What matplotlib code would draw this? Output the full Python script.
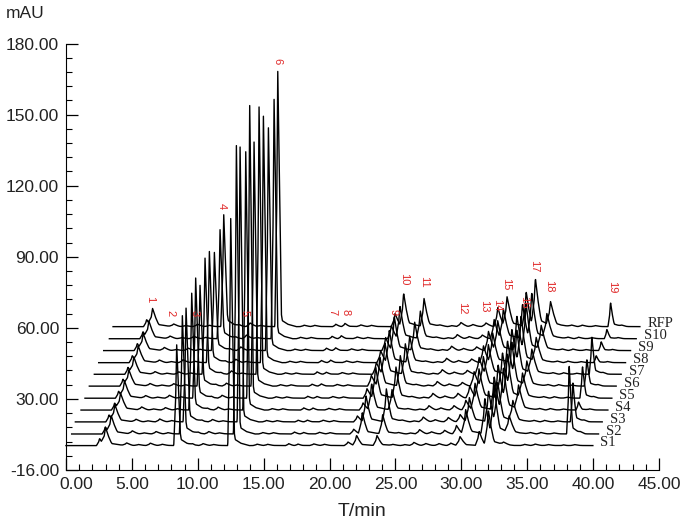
import numpy as np
import matplotlib
matplotlib.use("Agg")
import matplotlib.pyplot as plt
from matplotlib.transforms import ScaledTranslation

plt.rcParams['font.family'] = ['Liberation Sans', 'DejaVu Sans']

names = ["S1", "S2", "S3", "S4", "S5", "S6", "S7", "S8", "S9", "S10", "RFP"]

# where each trace sits in the stacked view (minutes / mAU)
shift_t = [0.0, 0.43, 0.71, 1.14, 1.44, 1.77, 2.15, 2.48, 2.86, 3.29, 3.57]
base_y = [10.3, 15.2, 20.3, 25.3, 30.3, 35.4, 40.4, 45.3, 50.4, 55.4, 60.5]

# retention time of the 19 numbered peaks, and how broad each one looks
peak_t = [3.0, 4.6, 6.4, 8.4, 10.4, 12.5, 16.9, 17.6, 21.4, 22.05, 23.6,
          26.4, 28.3, 29.2, 29.9, 31.35, 32.05, 33.2, 37.75]
peak_w = [2.0, 2.0, 2.0, 1.4, 2.0, 1.4, 1.5, 1.5, 1.8, 1.8, 1.8,
          2.0, 2.0, 1.8, 2.0, 1.8, 1.9, 2.0, 1.2]

# peak heights, one value per numbered peak
s1 = [7.4, 1.0, 1.0, 42.5, 0.8, 95.8, 0.8, 0.6, 1.5, 4.2, 4.2, 1.3, 0.8, 1.0, 3.7, 6.0, 14.5, 1.0, 0.3]
s2 = [7.5, 1.2, 1.0, 49.9, 1.0, 121.7, 0.8, 0.6, 2.0, 9.0, 8.0, 1.8, 1.5, 3.5, 10.0, 15.0, 20.0, 7.0, 29.6]
s3 = [7.0, 1.0, 1.2, 48.0, 1.0, 116.0, 0.7, 0.7, 2.5, 11.0, 13.8, 2.0, 1.8, 3.0, 10.0, 13.0, 16.0, 8.5, 17.0]
s4 = [6.8, 1.2, 1.0, 49.3, 1.2, 109.0, 0.9, 0.8, 3.0, 11.0, 8.5, 1.8, 1.8, 4.0, 11.0, 14.0, 17.0, 10.0, 3.5]
s5 = [7.0, 1.0, 1.2, 50.7, 1.2, 123.5, 0.8, 0.7, 4.0, 13.0, 13.0, 2.0, 2.0, 5.0, 12.0, 14.0, 18.0, 10.0, 13.7]
s6 = [6.6, 1.0, 1.0, 42.5, 1.2, 103.0, 0.8, 0.9, 4.5, 12.0, 12.7, 1.9, 1.5, 6.0, 12.0, 14.0, 18.0, 10.0, 11.5]
s7 = [7.0, 1.0, 1.0, 49.0, 1.4, 112.8, 1.0, 0.8, 5.0, 13.0, 12.7, 1.9, 1.6, 7.0, 12.0, 14.0, 18.0, 10.0, 16.2]
s8 = [6.8, 1.0, 1.2, 46.9, 1.4, 104.0, 0.9, 1.0, 5.0, 13.5, 11.0, 1.8, 1.5, 7.0, 12.0, 14.0, 19.0, 10.0, 3.0]
s9 = [7.0, 1.2, 1.0, 41.4, 1.5, 94.0, 1.0, 1.1, 5.5, 14.0, 11.8, 1.8, 1.5, 8.0, 12.0, 14.5, 19.0, 10.0, 3.8]
s10 = [7.2, 1.0, 1.0, 46.0, 1.5, 101.0, 1.0, 1.2, 5.5, 13.5, 11.5, 1.7, 1.5, 8.0, 12.0, 14.5, 18.5, 10.0, 4.0]
rfp = [7.4, 1.0, 1.0, 47.2, 1.5, 107.7, 1.0, 1.3, 5.5, 13.7, 11.7, 1.7, 1.5, 8.0, 12.0, 14.5, 19.3, 9.9, 10.3]
heights = [s1, s2, s3, s4, s5, s6, s7, s8, s9, s10, rfp]

# small unnumbered bumps that show up in every trace
minor_t = [2.55, 5.5, 7.3, 9.6, 11.2, 14.5, 15.3, 18.8, 19.6, 24.8, 25.7, 27.3, 34.8, 35.6, 36.6, 38.6]
minor_h = [3.0, 0.4, 0.5, 0.5, 0.4, 0.6, 0.5, 0.7, 0.5, 0.4, 0.4, 0.8, 0.5, 0.6, 0.4, 0.4]
minor_w = [1.5, 2, 2, 2, 2, 2, 2, 2, 2, 2, 2, 2, 2, 2, 2, 2]

# red peak numbers
label_t = [6.38, 7.9, 9.72, 11.85, 13.59, 16.02, 20.2, 21.2, 24.83, 25.66, 27.18,
           30.07, 31.75, 32.75, 33.41, 34.78, 35.54, 36.67, 41.46]
label_y = [72.2, 66.3, 66.3, 111.5, 66.3, 172.4, 66.8, 66.8, 66.8, 80.7, 79.4,
           68.4, 69.3, 69.7, 78.6, 71.0, 86.2, 77.7, 77.3]

y_ticks = [0, 30, 60, 90, 120, 150, 180]
y_ticklabels = ["-16.00", "30.00", "60.00", "90.00", "120.00", "150.00", "180.00"]
x_ticks = [0, 5, 10, 15, 20, 25, 30, 35, 40, 45]
x_ticklabels = ["0.00", "5.00", "10.00", "15.00", "20.00", "25.00", "30.00", "35.00", "40.00", "45.00"]
blue_ticks = [5, 30, 40]


def trace(grid, times, hs, ws):
    y = np.zeros_like(grid)
    for t, h, w in zip(times, hs, ws):
        # steep sides with a pointed top, then a short low tail
        # tail does not keep growing for the very tall peaks
        tail = min(h, 25)
        y += np.interp(grid,
                       [t - 0.16 * w, t - 0.05 * w, t, t + 0.1 * w, t + 0.2 * w, t + 0.25 * w, t + 0.55 * w, t + 1.0 * w],
                       [0, 0.5 * h, h, 0.55 * h, 0.2 * tail, 0.1 * tail, 0.04 * tail, 0])
    return y


fig = plt.figure(figsize=(6.89, 5.26), dpi=100)
ax = fig.add_axes([66 / 689, 1 - 470 / 526, (659 - 66) / 689, (470 - 43.5) / 526])

grid = np.arange(0, 40, 0.02)
for i, name in enumerate(names):
    y = trace(grid, peak_t + minor_t, heights[i] + minor_h, peak_w + minor_w)
    ax.plot(grid + shift_t[i], y + base_y[i], color="black", lw=1.0, clip_on=False)
    ax.text(40.55 + shift_t[i], base_y[i] + 1.2, name, family="Liberation Serif", fontsize=10.5,
            ha="left", va="center", color="#222222")

for n, (t, y) in enumerate(zip(label_t, label_y)):
    ax.text(t, y, str(n + 1), color="#e02828", fontsize=8, rotation=270, ha="center", va="center")

ax.set_xlim(0, 45)
ax.set_ylim(0, 180)
ax.spines["top"].set_visible(False)
ax.spines["right"].set_visible(False)

ax.set_xticks(x_ticks, x_ticklabels)
ax.set_xticks(np.arange(0, 46, 1), minor=True)
ax.set_yticks(y_ticks, y_ticklabels)
ax.set_yticks(np.arange(0, 181, 6), minor=True)
ax.tick_params(which="major", direction="in", length=8.6, width=0.9, labelsize=12.5, pad=5)
ax.tick_params(which="minor", direction="in", length=4.3, width=0.8)
for tick, val in zip(ax.xaxis.get_major_ticks(), x_ticks):
    if val in blue_ticks:
        tick.tick1line.set_color("#4d7f94")
    tick.label1.set_color("#222222")
for tick in ax.yaxis.get_major_ticks():
    tick.label1.set_color("#222222")

# first x label sits a bit to the right of its tick
lab0 = ax.xaxis.get_major_ticks()[0].label1
lab0.set_transform(lab0.get_transform() + ScaledTranslation(10 / 100, 0, fig.dpi_scale_trans))

fig.text(362 / 689, 1 - 511 / 526, "T/min", fontsize=14, ha="center", va="center", color="#222222")
fig.text(6 / 689, 1 - 13 / 526, "mAU", fontsize=12.5, ha="left", va="center", color="#222222")

fig.savefig("out.png", dpi=100)
